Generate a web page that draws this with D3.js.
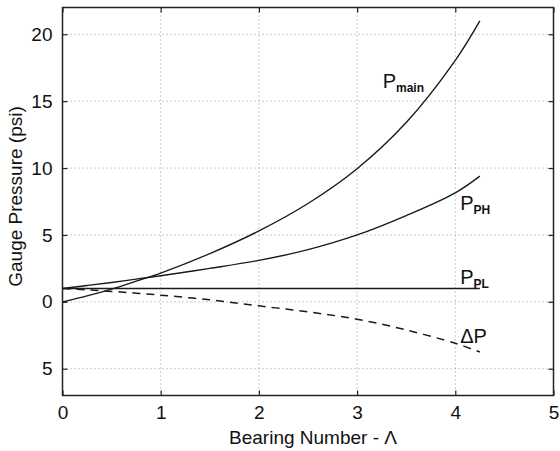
<!DOCTYPE html>
<html><head><meta charset="utf-8">
<script src="https://cdn.jsdelivr.net/npm/d3@7"></script>
<style>body{margin:0;background:#fff}svg{display:block}text{font-family:"Liberation Sans",Arial,Helvetica,sans-serif;fill:#111}</style>
</head><body><svg id="c" width="560" height="451"></svg>
<script>
const lambda = [0,0.25,0.5,0.75,1,1.5,2,2.5,3,3.5,4,4.25];
const pMain  = [0,0.45,0.95,1.55,2.15,3.6,5.3,7.35,9.95,13.4,18.05,21.0];
const pPH    = [1.0,1.22,1.45,1.7,1.95,2.5,3.1,3.9,5.0,6.45,8.15,9.4];
const pPL    = [1,1,1,1,1,1,1,1,1,1,1,1];
const dP     = [1.0,0.9,0.78,0.65,0.5,0.15,-0.3,-0.75,-1.3,-2.1,-3.1,-3.75];
const xTicks = [0,1,2,3,4,5];
const yTicks = [-5,0,5,10,15,20];
const yTickLabels = ["5","0","5","10","15","20"];
const seriesLabels = [
  {main:"P", sub:"main", x:3.26, y:16.0},
  {main:"P", sub:"PH",   x:4.05, y:6.9},
  {main:"P", sub:"PL",   x:4.05, y:1.3},
  {main:"ΔP", sub:"",    x:4.05, y:-3.05}
];

const svg = d3.select("#c");
const x = d3.scaleLinear().domain([0,5]).range([62.5,553.5]);
const y = d3.scaleLinear().domain([-7,22]).range([395.5,7.5]);
const L=x.range()[0], R=x.range()[1], T=y.range()[1], B=y.range()[0];

// grid
const g = svg.append("g");
g.selectAll(".vg").data(xTicks.filter(d=>d>0&&d<5)).join("line")
  .attr("x1",d=>x(d)).attr("x2",d=>x(d)).attr("y1",T).attr("y2",B)
  .attr("stroke","#999").attr("stroke-width",1).attr("stroke-dasharray","1,3");
g.selectAll(".hg").data(yTicks).join("line")
  .attr("x1",L).attr("x2",R).attr("y1",d=>y(d)).attr("y2",d=>y(d))
  .attr("stroke","#999").attr("stroke-width",1).attr("stroke-dasharray","1,3");

// axes
const ax = svg.append("g").attr("transform",`translate(0,${B})`)
  .call(d3.axisBottom(x).tickValues(xTicks).tickSize(-5).tickPadding(10).tickFormat(d3.format("d")));
const axT = svg.append("g").attr("transform",`translate(0,${T})`)
  .call(d3.axisTop(x).tickValues(xTicks).tickSize(-5).tickFormat(""));
const ay = svg.append("g").attr("transform",`translate(${L},0)`)
  .call(d3.axisLeft(y).tickValues(yTicks).tickSize(-5).tickPadding(10).tickFormat((d,i)=>yTickLabels[i]));
const ayR = svg.append("g").attr("transform",`translate(${R},0)`)
  .call(d3.axisRight(y).tickValues(yTicks).tickSize(-5).tickFormat(""));
[ax,axT,ay,ayR].forEach(a=>{
  a.select(".domain").remove();
  a.selectAll(".tick line").attr("stroke","#222").attr("stroke-width",1.2);
  a.selectAll("text").attr("font-size",19).attr("fill","#111");
});
svg.append("rect").attr("x",L).attr("y",T).attr("width",R-L).attr("height",B-T)
  .attr("fill","none").attr("stroke","#222").attr("stroke-width",1.5);

// lines
const pts = arr => lambda.map((l,i)=>[l,arr[i]]);
const line = d3.line().x(d=>x(d[0])).y(d=>y(d[1])).curve(d3.curveCatmullRom.alpha(0.5));
[pMain,pPH,pPL].forEach(s=>{
  svg.append("path").attr("d",line(pts(s))).attr("fill","none").attr("stroke","#1a1a1a").attr("stroke-width",1.4);
});
svg.append("path").attr("d",line(pts(dP))).attr("fill","none").attr("stroke","#1a1a1a")
  .attr("stroke-width",1.5).attr("stroke-dasharray","8,6");

// labels
seriesLabels.forEach(s=>{
  const t = svg.append("text").attr("x",x(s.x)).attr("y",y(s.y)).attr("font-size",20);
  t.append("tspan").text(s.main);
  if(s.sub) t.append("tspan").attr("dy",4).attr("font-size",12).attr("font-weight","bold").text(s.sub);
});

// titles
svg.append("text").attr("x",(L+R)/2+5).attr("y",444).attr("text-anchor","middle").attr("font-size",19)
  .text("Bearing Number - Λ");
svg.append("text").attr("transform",`translate(22,${(T+B)/2-5}) rotate(-90)`).attr("text-anchor","middle")
  .attr("font-size",19).text("Gauge Pressure (psi)");
</script></body></html>
